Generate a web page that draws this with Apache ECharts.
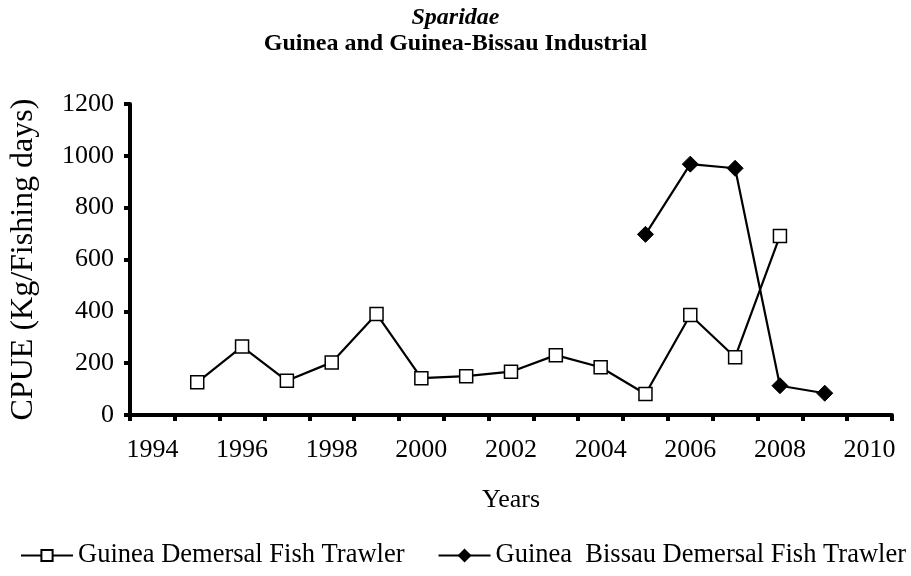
<!DOCTYPE html>
<html>
<head>
<meta charset="utf-8">
<script src="https://cdn.jsdelivr.net/npm/echarts@6/dist/echarts.min.js"></script>
<style>
  html, body { margin: 0; padding: 0; background: #fff; }
  #chart { width: 911px; height: 576px; }
</style>
</head>
<body>
<div id="chart"></div>
<script>
// Years on the category axis (every other one is labelled)
const years = ['1994', '1995', '1996', '1997', '1998', '1999', '2000', '2001', '2002',
  '2003', '2004', '2005', '2006', '2007', '2008', '2009', '2010'];

// CPUE values, null = no record
const guineaTrawler = [null, 126, 264, 132, 203, 390, 142, 150, 167, 231, 184, 81, 386, 223, 691, null, null];
const bissauTrawler = [null, null, null, null, null, null, null, null, null, null, null, 697, 968, 952, 113, 84, null];

const FONT = '"Liberation Serif", "Times New Roman", serif';

const chart = echarts.init(document.getElementById('chart'), null, { renderer: 'canvas' });

chart.setOption({
  animation: false,
  backgroundColor: '#fff',
  textStyle: { fontFamily: FONT, color: '#000' },
  title: {
    left: 'center',
    top: 0,
    text: '{a|Sparidae}\n{b|Guinea and Guinea-Bissau Industrial}',
    textStyle: {
      rich: {
        a: { fontFamily: FONT, fontSize: 24, fontWeight: 'bold', fontStyle: 'italic', color: '#000', lineHeight: 26 },
        b: { fontFamily: FONT, fontSize: 24, fontWeight: 'bold', color: '#000', lineHeight: 26 }
      }
    }
  },
  grid: { left: 128, right: 19, top: 104, bottom: 161, containLabel: false },
  legend: {
    bottom: 7,
    left: 20,
    padding: 0,
    itemWidth: 52,
    itemHeight: 14,
    itemGap: 33,
    textStyle: { fontFamily: FONT, fontSize: 26.5, color: '#000' },
    data: ['Guinea Demersal Fish Trawler', 'Guinea  Bissau Demersal Fish Trawler']
  },
  xAxis: {
    type: 'category',
    data: years,
    boundaryGap: true,
    name: 'Years',
    nameLocation: 'middle',
    nameGap: 72,
    nameTextStyle: { fontFamily: FONT, fontSize: 26, color: '#000' },
    axisLine: { lineStyle: { color: '#000', width: 4 } },
    axisTick: { show: true, interval: 0, length: 6, lineStyle: { color: '#000', width: 4 } },
    axisLabel: { interval: 1, fontFamily: FONT, fontSize: 26, color: '#000', margin: 22 },
    splitLine: { show: false }
  },
  yAxis: {
    type: 'value',
    min: 0,
    max: 1200,
    interval: 200,
    name: 'CPUE (Kg/Fishing days)',
    nameLocation: 'middle',
    nameGap: 90,
    nameTextStyle: { fontFamily: FONT, fontSize: 32, color: '#000' },
    axisLine: { show: true, lineStyle: { color: '#000', width: 4 } },
    axisTick: { show: true, length: 6, lineStyle: { color: '#000', width: 4 } },
    axisLabel: { fontFamily: FONT, fontSize: 26, color: '#000', margin: 16, formatter: (v) => String(v) },
    splitLine: { show: false }
  },
  series: [
    {
      name: 'Guinea Demersal Fish Trawler',
      type: 'line',
      data: guineaTrawler,
      symbol: 'rect',
      symbolSize: 13,
      connectNulls: false,
      lineStyle: { color: '#000', width: 2.2 },
      itemStyle: { color: '#fff', borderColor: '#000', borderWidth: 1.5 },
      z: 2
    },
    {
      name: 'Guinea  Bissau Demersal Fish Trawler',
      type: 'line',
      data: bissauTrawler,
      symbol: 'diamond',
      symbolSize: 16,
      connectNulls: false,
      lineStyle: { color: '#000', width: 2.2 },
      itemStyle: { color: '#000', borderColor: '#000', borderWidth: 1 },
      z: 3
    }
  ]
});
</script>
</body>
</html>
